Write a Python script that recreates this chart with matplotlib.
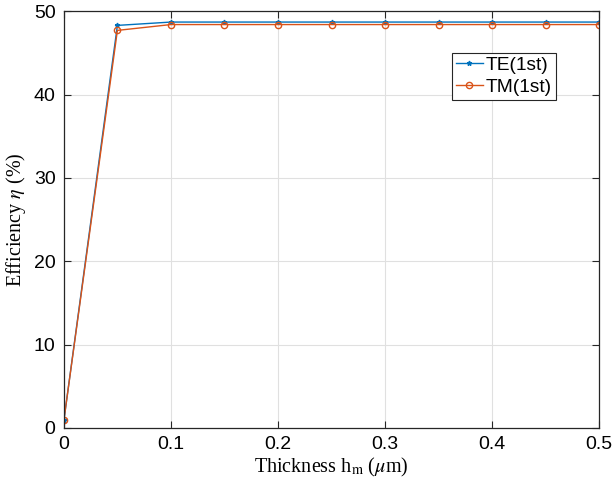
import matplotlib
matplotlib.use("Agg")
import matplotlib.pyplot as plt

thickness = [0, 0.05, 0.1, 0.15, 0.2, 0.25, 0.3, 0.35, 0.4, 0.45, 0.5]
te_eff = [0.9, 48.3, 48.7, 48.7, 48.7, 48.7, 48.7, 48.7, 48.7, 48.7, 48.7]
tm_eff = [0.9, 47.7, 48.4, 48.4, 48.4, 48.4, 48.4, 48.4, 48.4, 48.4, 48.4]
xticks = [0, 0.1, 0.2, 0.3, 0.4, 0.5]
yticks = [0, 10, 20, 30, 40, 50]

plt.rcParams['mathtext.fontset'] = 'stix'
fig = plt.figure(figsize=(6.14, 4.88), dpi=100)
ax = fig.add_axes([0.104, 0.123, 0.872, 0.854])

ax.plot(thickness, te_eff, color='#0072BD', marker='*', markersize=3.5, lw=1.0, label='TE(1st)')
ax.plot(thickness, tm_eff, color='#D95319', marker='o', markersize=4.5, mfc='none', mew=1.0, lw=1.0, label='TM(1st)')

ax.set_xlim(0, 0.5)
ax.set_ylim(0, 50)
ax.set_xticks(xticks)
ax.set_yticks(yticks)
ax.set_xticklabels(['0', '0.1', '0.2', '0.3', '0.4', '0.5'])
ax.grid(True, color='#e0e0e0', lw=0.8)
ax.set_axisbelow(True)
ax.tick_params(direction='in', length=5, width=0.8, color='#262626', labelsize=14, pad=6,
               top=True, right=True)
for lab in ax.get_xticklabels() + ax.get_yticklabels():
    lab.set_fontfamily('Liberation Sans')
for s in ax.spines.values():
    s.set_color('#262626')
    s.set_linewidth(0.9)

ax.set_xlabel(r'Thickness h$_{\mathrm{m}}$ ($\mu$m)', fontfamily='Liberation Serif', fontsize=14.5, labelpad=2)
ax.set_ylabel(r'Efficiency $\eta$ (%)', fontfamily='Liberation Serif', fontsize=14.5, labelpad=4)

leg = ax.legend(loc='upper left', bbox_to_anchor=(0.725, 0.90), prop={'family': 'Liberation Sans', 'size': 13.8},
                fancybox=False, edgecolor='#262626', framealpha=1, handlelength=1.4, borderpad=0.2,
                labelspacing=0.22, handletextpad=0.15, borderaxespad=0)
leg.get_frame().set_linewidth(0.8)

fig.savefig('out.png', dpi=100)
